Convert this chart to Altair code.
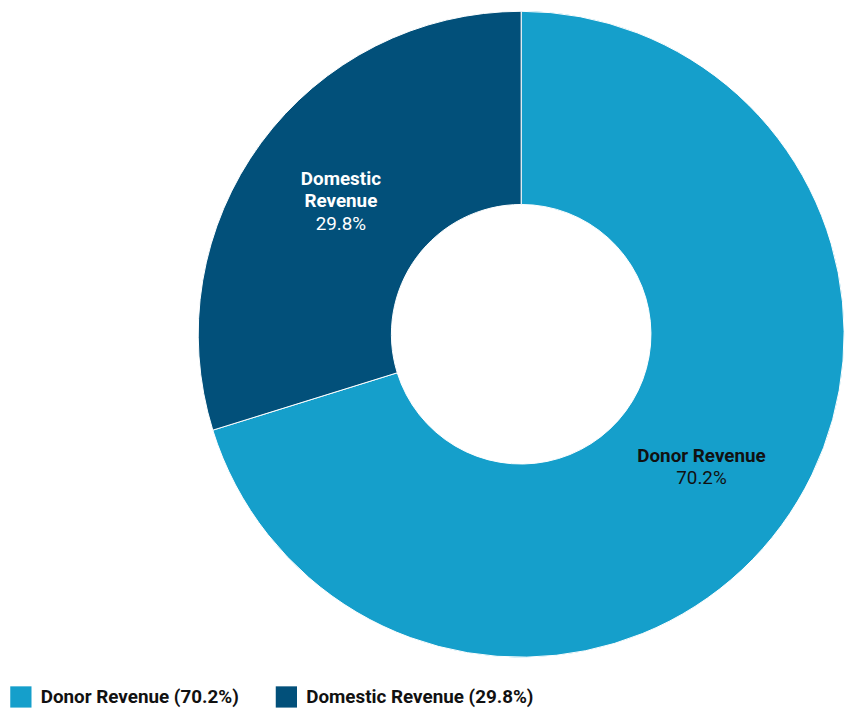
import altair as alt
import pandas as pd

categories = ["Donor Revenue", "Domestic Revenue"]
shares = [70.2, 29.8]
pct_labels = ["70.2%", "29.8%"]
name_lines = [["Donor Revenue"], ["Domestic", "Revenue"]]
colors = ["#159fcb", "#02507a"]
label_colors = ["#111111", "#ffffff"]

arc_df = pd.DataFrame({"category": categories, "share": shares, "order": [0, 1]})

# one row per label line; offset = line position relative to block centre
label_rows = []
cum = 0.0
for i, c in enumerate(categories):
    mid = cum + shares[i] / 2
    cum += shares[i]
    lines = [(t, "bold") for t in name_lines[i]] + [(pct_labels[i], "normal")]
    n = len(lines)
    for k, (t, w) in enumerate(lines):
        label_rows.append({
            "category": c, "mid": mid, "text": t, "weight": w,
            "offset": k - (n - 1) / 2, "lblcolor": label_colors[i],
        })
lbl_df = pd.DataFrame(label_rows)

CX, CY = 518, 326
R_OUT, R_IN, R_LBL = 326, 131, 226
LH = 22.5
FS = 19
theta_scale = alt.Scale(domain=[0, 100], range=[0, 6.283185307179586])

arcs = alt.Chart(arc_df).mark_arc(outerRadius=R_OUT, innerRadius=R_IN, stroke="white", strokeWidth=1).encode(
    theta=alt.Theta("share:Q", stack=True, scale=theta_scale),
    order=alt.Order("order:Q"),
    x=alt.value(CX),
    y=alt.value(CY),
    color=alt.Color(
        "category:N",
        scale=alt.Scale(domain=categories, range=colors),
        sort=categories,
        legend=alt.Legend(
            title=None,
            orient="none",
            legendX=2,
            legendY=681,
            direction="horizontal",
            symbolType="square",
            symbolSize=460,
            symbolStrokeWidth=0,
            labelFont="Roboto",
            labelFontSize=19,
            labelFontWeight="bold",
            labelColor="#111111",
            labelOffset=9,
            columnPadding=36,
            labelLimit=400,
            labelExpr="datum.label == 'Donor Revenue' ? 'Donor Revenue (70.2%)' : 'Domestic Revenue (29.8%)'",
        ),
    ),
)

text_layers = []
for off in sorted(set(lbl_df["offset"])):
    weight = lbl_df.loc[lbl_df["offset"] == off, "weight"].iloc[0]
    layer = alt.Chart(lbl_df).transform_filter(
        alt.datum.offset == off
    ).mark_text(
        radius=R_LBL, font="Roboto", fontSize=FS, fontWeight=weight,
        baseline="middle", align="center", dy=off * LH,
    ).encode(
        theta=alt.Theta("mid:Q", stack=None, scale=theta_scale),
        x=alt.value(CX),
        y=alt.value(CY),
        text="text:N",
        color=alt.Color("lblcolor:N", scale=None),
    )
    text_layers.append(layer)

chart = alt.layer(arcs, *text_layers).properties(
    width=858, height=703,
    autosize=alt.AutoSizeParams(type="none"),
    padding=0,
).configure_view(stroke=None)

chart.save("out.html", embed_options={"renderer": "svg", "actions": False})
